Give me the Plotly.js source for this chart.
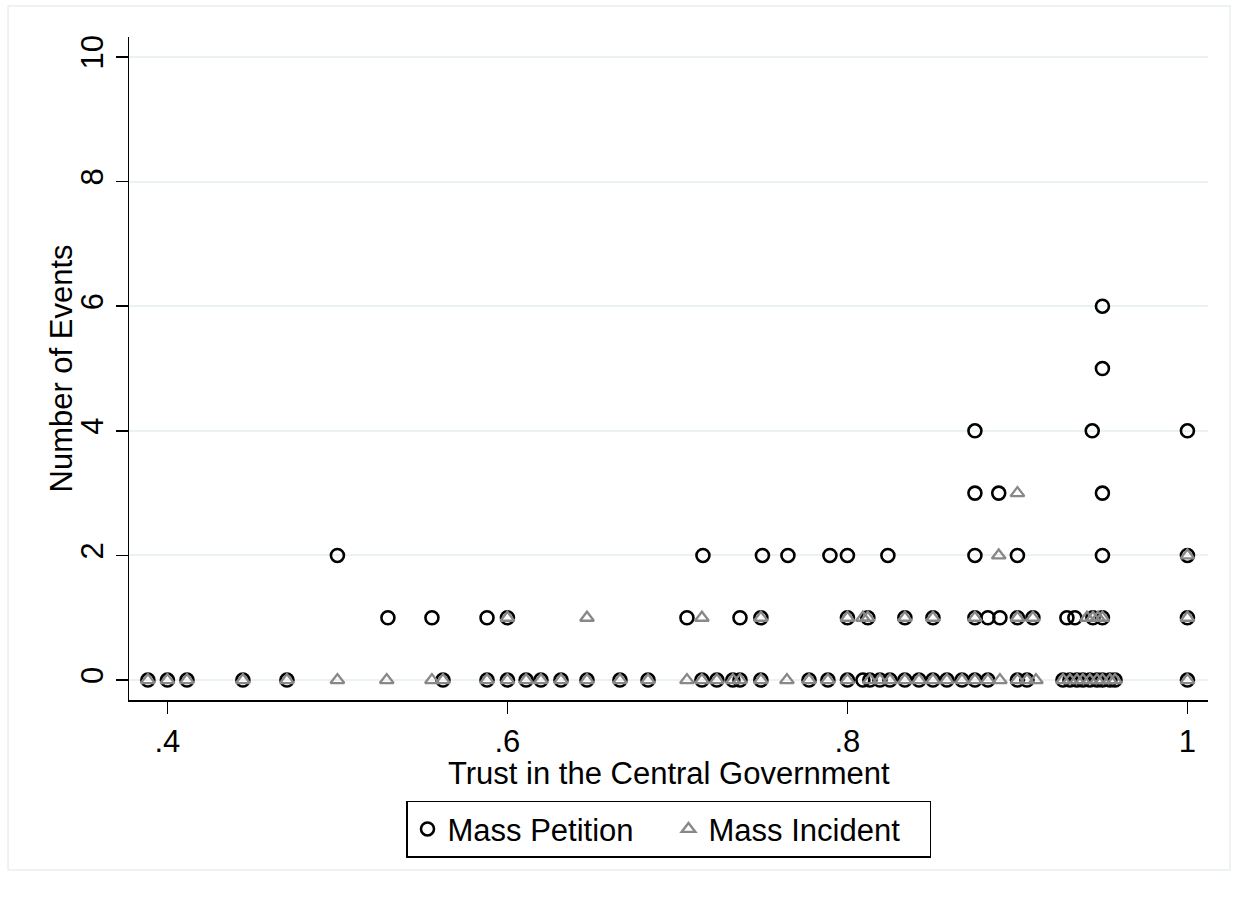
<!DOCTYPE html>
<html>
<head>
<meta charset="utf-8">
<script src="https://cdn.plot.ly/plotly-3.0.1.min.js"></script>
<style>
  html, body { margin: 0; padding: 0; background: #ffffff; }
  #chart { width: 1238px; height: 899px; }
</style>
</head>
<body>
<div id="chart"></div>
<script>
// Mass Petition: trust in central government (x) and number of events (y)
const petitionTrust = [
  0.3885, 0.4, 0.4115, 0.4444, 0.4703, 0.5621, 0.588, 0.6, 0.611, 0.6197, 0.6315, 0.6468, 0.6662, 0.6827,
  0.7144, 0.7232, 0.7326, 0.7368, 0.7491, 0.7774, 0.7885, 0.8, 0.8091, 0.8132, 0.8191, 0.825, 0.8338,
  0.8421, 0.8503, 0.8585, 0.8674, 0.875, 0.8826, 0.9, 0.9056, 0.9268, 0.9309, 0.935, 0.9385, 0.9426,
  0.9468, 0.95, 0.9544, 0.9574, 1.0,
  0.5297, 0.5556, 0.588, 0.6, 0.7056, 0.7368, 0.7491, 0.8, 0.812, 0.8338, 0.8503, 0.875, 0.8826, 0.8897,
  0.9, 0.9091, 0.9291, 0.9338, 0.9444, 0.95, 1.0,
  0.5, 0.715, 0.75, 0.765, 0.7897, 0.8, 0.8238, 0.875, 0.9, 0.95, 1.0,
  0.875, 0.889, 0.95,
  0.875, 0.944, 1.0,
  0.95,
  0.95
];
const petitionEvents = [
  0, 0, 0, 0, 0, 0, 0, 0, 0, 0, 0, 0, 0, 0,
  0, 0, 0, 0, 0, 0, 0, 0, 0, 0, 0, 0, 0,
  0, 0, 0, 0, 0, 0, 0, 0, 0, 0, 0, 0, 0,
  0, 0, 0, 0, 0,
  1, 1, 1, 1, 1, 1, 1, 1, 1, 1, 1, 1, 1, 1,
  1, 1, 1, 1, 1, 1, 1,
  2, 2, 2, 2, 2, 2, 2, 2, 2, 2, 2,
  3, 3, 3,
  4, 4, 4,
  5,
  6
];

// Mass Incident
const incidentTrust = [
  0.3885, 0.4, 0.4115, 0.4444, 0.4703, 0.5, 0.529, 0.5556, 0.5621, 0.588, 0.6, 0.611, 0.6197, 0.6315,
  0.6468, 0.6662, 0.6827, 0.7056, 0.7144, 0.7232, 0.7326, 0.7368, 0.7491, 0.7644, 0.7774, 0.7885, 0.8,
  0.8132, 0.8191, 0.825, 0.8338, 0.8421, 0.8503, 0.8585, 0.8674, 0.875, 0.8826, 0.8897, 0.9, 0.9056,
  0.9109, 0.9268, 0.9309, 0.935, 0.9385, 0.9426, 0.9468, 0.95, 0.9544, 0.9574, 1.0,
  0.6, 0.6468, 0.7144, 0.7491, 0.8, 0.8091, 0.812, 0.8338, 0.8503, 0.875, 0.9, 0.9091, 0.9409, 0.9444,
  0.9474, 0.95, 1.0,
  0.889, 1.0,
  0.9
];
const incidentEvents = [
  0, 0, 0, 0, 0, 0, 0, 0, 0, 0, 0, 0, 0, 0,
  0, 0, 0, 0, 0, 0, 0, 0, 0, 0, 0, 0, 0,
  0, 0, 0, 0, 0, 0, 0, 0, 0, 0, 0, 0, 0,
  0, 0, 0, 0, 0, 0, 0, 0, 0, 0, 0,
  1, 1, 1, 1, 1, 1, 1, 1, 1, 1, 1, 1, 1, 1,
  1, 1, 1,
  2, 2,
  3
];

const seriesNames = ["Mass Petition", "Mass Incident"];
const xTickVals = [0.4, 0.6, 0.8, 1.0];
const xTickText = [".4", ".6", ".8", "1"];
const yTickVals = [0, 2, 4, 6, 8, 10];
const yTickText = ["0", "2", "4", "6", "8", "10"];
const xTitle = "Trust in the Central Government";
const yTitle = "Number of Events";

const FONT = "Liberation Sans, Arial, Helvetica, sans-serif";
const FS = 31;

const traces = [
  {
    type: "scatter", mode: "markers", name: seriesNames[0],
    x: petitionTrust, y: petitionEvents,
    marker: { symbol: "circle-open", size: 13, color: "#000000", line: { width: 2.6, color: "#000000" } },
    cliponaxis: false
  },
  {
    type: "scatter", mode: "markers", name: seriesNames[1],
    x: incidentTrust, y: incidentEvents,
    marker: { symbol: "triangle-up-open", size: 12, color: "#888888", line: { width: 2.3, color: "#888888" } },
    cliponaxis: false
  }
];

const layout = {
  width: 1238, height: 899,
  paper_bgcolor: "#ffffff", plot_bgcolor: "#ffffff",
  margin: { l: 129, r: 30, t: 37, b: 199, pad: 0 },
  font: { family: FONT, size: FS, color: "#000000" },
  showlegend: true,
  hovermode: false,
  xaxis: {
    range: [0.3774, 1.0121],
    tickvals: xTickVals, ticktext: xTickText,
    ticks: "outside", ticklen: 12, tickwidth: 1.5, tickcolor: "#000000",
    ticklabelstandoff: 1,
    showline: true, linecolor: "#000000", linewidth: 1.5,
    showgrid: false, zeroline: false,
    tickfont: { family: FONT, size: FS, color: "#000000" }
  },
  yaxis: {
    range: [-0.32, 10.32],
    tickvals: yTickVals, ticktext: yTickText,
    tickangle: -90,
    ticks: "outside", ticklen: 12, tickwidth: 1.5, tickcolor: "#000000",
    showline: true, linecolor: "#000000", linewidth: 1.5,
    showgrid: true, gridcolor: "#eaf2f3", gridwidth: 2,
    zeroline: false,
    tickfont: { family: FONT, size: FS, color: "#000000" }
  },
  annotations: [
    {
      text: xTitle, xref: "paper", yref: "paper", x: 0.5, y: -0.1116,
      xanchor: "center", yanchor: "middle", showarrow: false,
      font: { family: FONT, size: FS, color: "#000000" }
    },
    {
      text: yTitle, xref: "paper", yref: "paper", x: -0.0621, y: 0.5,
      xanchor: "center", yanchor: "middle", showarrow: false, textangle: -90,
      font: { family: FONT, size: FS, color: "#000000" }
    }
  ],
  legend: {
    orientation: "h",
    x: 0.5, xanchor: "center",
    y: -0.152, yanchor: "top",
    bordercolor: "#000000", borderwidth: 1.5,
    bgcolor: "#ffffff",
    entrywidth: 216,
    font: { family: FONT, size: FS, color: "#000000" },
    itemclick: false, itemdoubleclick: false
  },
  shapes: [
    {
      type: "rect", xref: "paper", yref: "paper",
      x0: -0.1121, x1: 1.0204, y0: -0.2564, y1: 1.0468,
      line: { color: "#e8eff1", width: 1.5 }, fillcolor: "rgba(0,0,0,0)", layer: "below"
    }
  ]
};

Plotly.newPlot("chart", traces, layout, { displayModeBar: false, staticPlot: true });
</script>
</body>
</html>
